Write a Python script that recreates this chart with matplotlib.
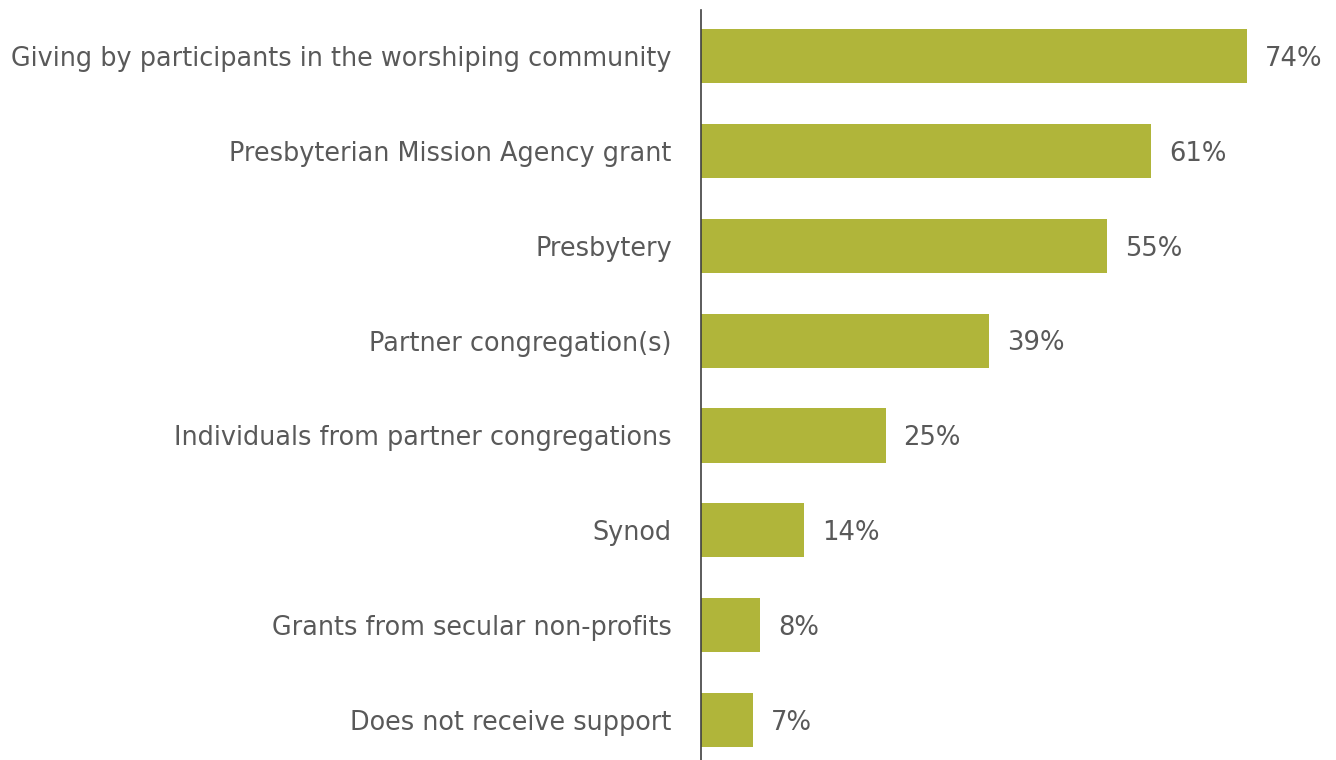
import matplotlib
matplotlib.use("Agg")
import matplotlib.pyplot as plt

categories = [
    "Giving by participants in the worshiping community",
    "Presbyterian Mission Agency grant",
    "Presbytery",
    "Partner congregation(s)",
    "Individuals from partner congregations",
    "Synod",
    "Grants from secular non-profits",
    "Does not receive support",
]
values = [74, 61, 55, 39, 25, 14, 8, 7]

BAR_COLOR = "#B0B53A"
TEXT_COLOR = "#595959"

fig = plt.figure(figsize=(13.36, 7.60), dpi=100)
ax = fig.add_axes([701 / 1336, 0.0, 635 / 1336, 750 / 760])

ypos = list(range(len(categories)))
ax.barh(ypos, values, height=0.57, color=BAR_COLOR)

for y, v in zip(ypos, values):
    ax.text(v + 2.4, y + 0.03, f"{v}%", va="center", ha="left",
            fontsize=18.6, color=TEXT_COLOR)

ax.set_xlim(0, 86)
ax.set_ylim(len(categories) - 1 + 0.42, -0.484)
ax.set_yticks(ypos)
ax.set_yticklabels(categories, fontsize=18.4, color=TEXT_COLOR)
ax.tick_params(axis="y", length=0, pad=21)
ax.set_xticks([])

for side in ["top", "right", "bottom"]:
    ax.spines[side].set_visible(False)
ax.spines["left"].set_color("#404040")
ax.spines["left"].set_linewidth(1.2)

fig.savefig("out.png", dpi=100, facecolor="white")
